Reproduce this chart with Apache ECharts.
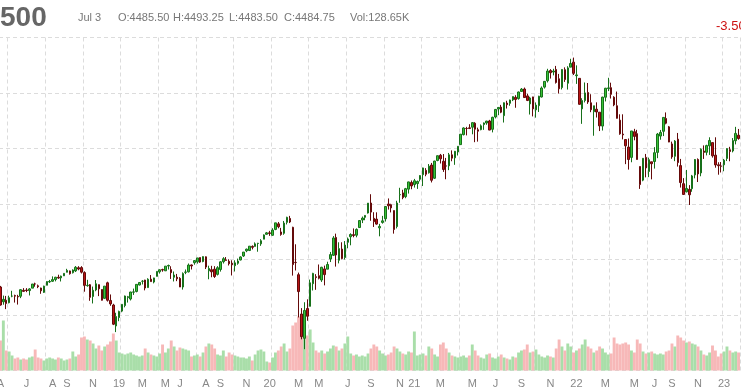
<!DOCTYPE html>
<html>
<head>
<meta charset="utf-8">
<script src="https://cdn.jsdelivr.net/npm/echarts@6/dist/echarts.min.js"></script>
<style>
html,body{margin:0;padding:0;background:#fff;}
#chart{width:741px;height:390px;}
</style>
</head>
<body>
<div id="chart"></div>
<script>
// Weekly bars, first week starting 2018-03-19
const firstWeek = '2018-03-19';
const opens = [
2752,2619,2633,2611,2670,2675,2667,2669,2722,2725,
2720,2742,2780,2763,2743,2704,2768,2798,2804,2819,
2840,2835,2853,2885,2897,2881,2897,2926,2927,2882,
2764,2773,2667,2726,2773,2730,2650,2790,2631,2590,
2401,2477,2535,2585,2657,2644,2706,2712,2770,2804,
2815,2747,2823,2797,2848,2889,2909,2898,2941,2909,
2840,2841,2830,2752,2885,2889,2951,2971,2979,3018,
2982,3024,2898,2908,2913,2866,2910,2980,2996,2984,
2967,2944,2966,2996,3032,3078,3081,3118,3118,3144,
3141,3183,3227,3240,3218,3271,3321,3248,3236,3335,
3370,3290,2974,2863,2509,2290,2558,2578,2782,2845,
2854,2815,2915,2913,3005,3038,3199,2993,3094,3018,
3155,3205,3224,3219,3288,3356,3380,3419,3509,3371,
3364,3285,3334,3367,3500,3493,3441,3297,3583,3600,
3566,3634,3694,3675,3684,3723,3764,3803,3781,3851,
3732,3892,3939,3885,3843,3844,3943,3916,3969,4035,
4125,4180,4186,4192,4228,4169,4170,4216,4230,4248,
4173,4284,4356,4373,4296,4409,4407,4438,4461,4450,
4514,4536,4474,4402,4465,4348,4386,4464,4553,4610,
4702,4689,4712,4628,4549,4710,4588,4733,4778,4656,
4632,4357,4432,4505,4412,4332,4354,4327,4202,4462,
4541,4548,4462,4385,4255,4130,4081,4013,3920,4151,
4134,3838,3715,3920,3793,3880,3883,3965,4112,4155,
4270,4195,4041,3930,4084,3846,3683,3610,3632,3638,
3762,3901,3780,3977,3966,4024,4053,3940,3853,3843,
3853,3910,3989,3978,4070,4120];
const highs = [
2762,2675,2672,2674,2718,2683,2682,2732,2742,2742,
2742,2779,2791,2774,2746,2764,2804,2816,2848,2844,
2863,2855,2876,2916,2900,2911,2941,2940,2940,2894,
2817,2779,2756,2815,2775,2731,2760,2800,2685,2601,
2520,2539,2597,2675,2672,2709,2738,2776,2794,2814,
2817,2831,2860,2836,2894,2911,2917,2940,2954,2939,
2892,2870,2841,2884,2910,2964,2955,2995,3014,3018,
3028,3028,2944,2943,2940,2940,2985,3021,3022,3002,
2993,2993,3008,3028,3067,3098,3120,3127,3154,3150,
3183,3226,3248,3258,3282,3330,3338,3285,3347,3385,
3393,3295,3137,2882,2562,2615,2641,2819,2880,2868,
2955,2934,2945,2980,3068,3211,3233,3155,3155,3166,
3198,3236,3280,3280,3352,3387,3399,3509,3588,3426,
3425,3321,3393,3482,3550,3502,3441,3529,3646,3628,
3645,3701,3712,3726,3711,3760,3827,3823,3860,3870,
3889,3937,3951,3950,3915,3960,3983,3978,4021,4129,
4191,4195,4219,4238,4237,4188,4217,4234,4249,4258,
4286,4356,4372,4393,4415,4430,4440,4468,4480,4513,
4545,4549,4493,4466,4466,4415,4475,4559,4608,4718,
4715,4718,4744,4672,4713,4731,4741,4808,4819,4749,
4632,4453,4595,4590,4489,4385,4416,4327,4466,4546,
4637,4593,4471,4513,4308,4308,4081,4090,4158,4177,
4168,3838,3913,3951,3918,3880,4012,4140,4167,4280,
4325,4203,4062,4076,4140,3906,3733,3807,3670,3762,
3905,3911,4001,4028,4034,4101,4053,4101,3876,3878,
3906,4003,4015,4094,4195,4176];
const lows = [
2585,2593,2553,2605,2660,2612,2594,2652,2707,2706,
2676,2742,2755,2742,2691,2698,2768,2789,2798,2803,
2826,2802,2851,2884,2864,2874,2887,2903,2874,2710,
2755,2628,2604,2714,2670,2631,2647,2621,2583,2409,
2346,2444,2525,2569,2612,2631,2681,2704,2767,2775,
2722,2746,2800,2785,2848,2873,2890,2896,2910,2825,
2802,2805,2752,2729,2868,2883,2910,2953,2963,2970,
2975,2914,2822,2840,2834,2856,2891,2964,2990,2946,
2856,2892,2953,2992,3023,3066,3076,3091,3117,3070,
3123,3183,3223,3213,3214,3264,3281,3214,3223,3316,
3328,2855,2901,2478,2281,2192,2448,2578,2721,2727,
2821,2798,2767,2913,2977,3032,2936,2965,3001,3000,
3101,3128,3200,3200,3284,3328,3354,3414,3349,3293,
3314,3209,3323,3342,3450,3424,3233,3280,3511,3543,
3552,3594,3633,3648,3636,3704,3662,3750,3774,3694,
3725,3885,3865,3789,3723,3805,3885,3853,3937,4035,
4118,4118,4175,4128,4057,4062,4164,4168,4214,4165,
4145,4271,4300,4318,4234,4360,4385,4427,4367,4440,
4513,4457,4427,4306,4289,4278,4329,4460,4540,4595,
4630,4659,4585,4495,4532,4600,4531,4733,4662,4582,
4395,4222,4415,4402,4327,4115,4279,4157,4162,4424,
4517,4450,4381,4270,4124,4082,3859,3810,3876,4074,
3900,3636,3705,3740,3742,3722,3819,3913,4079,4112,
4218,4057,3907,3886,3837,3648,3584,3604,3491,3610,
3731,3698,3750,3906,3938,3942,3918,3827,3764,3784,
3795,3887,3885,3965,4037,4079];
const closes = [
2590,2641,2604,2656,2670,2670,2663,2728,2713,2721,
2735,2779,2779,2755,2718,2760,2801,2802,2819,2840,
2833,2850,2875,2902,2872,2905,2930,2914,2886,2767,
2768,2659,2723,2781,2736,2633,2760,2633,2600,2417,
2486,2532,2596,2671,2665,2707,2708,2776,2793,2804,
2743,2822,2801,2834,2893,2907,2905,2940,2946,2881,
2860,2826,2752,2873,2887,2950,2942,2990,3014,2977,
3026,2932,2919,2889,2847,2926,2979,3007,2992,2962,
2952,2970,2986,3023,3067,3093,3120,3110,3141,3146,
3169,3221,3240,3235,3265,3330,3295,3226,3328,3380,
3338,2954,2972,2711,2305,2541,2489,2790,2875,2837,
2831,2930,2864,2955,3044,3194,3041,3098,3009,3130,
3185,3225,3216,3271,3351,3373,3397,3508,3427,3341,
3319,3298,3348,3477,3484,3465,3270,3509,3585,3558,
3638,3699,3663,3709,3703,3756,3825,3768,3841,3714,
3887,3935,3907,3811,3842,3943,3913,3975,4020,4129,
4185,4180,4181,4233,4174,4156,4204,4230,4247,4166,
4281,4352,4370,4327,4412,4395,4437,4468,4442,4509,
4535,4459,4433,4455,4357,4391,4471,4545,4605,4698,
4683,4698,4595,4538,4712,4621,4726,4766,4677,4663,
4398,4432,4501,4419,4349,4385,4329,4204,4463,4543,
4546,4488,4393,4272,4132,4123,4024,3901,4158,4109,
3901,3675,3912,3825,3899,3863,3962,4130,4145,4280,
4228,4058,3924,4067,3873,3693,3586,3640,3583,3753,
3901,3771,3993,3965,4026,4072,3934,3852,3845,3840,
3895,3999,3973,4071,4136,4090];
// weekly volume, thousands of contracts
const volumes = [
12000,20000,8000,7600,6000,4800,5200,4400,4800,4400,
5200,5600,8400,5200,4800,4000,4800,5200,4800,4400,
5200,4800,4000,4400,4800,7600,5600,6400,13200,13600,
12400,12000,10800,8800,10000,8000,9600,10400,11600,14800,
12000,7200,6800,6400,6800,7200,6400,6000,5600,6000,
8800,7200,6400,6000,5600,6800,10400,7200,8800,12000,
9600,8000,9200,8800,8400,8000,5600,6000,6400,5600,
7200,9600,10800,10400,8800,6400,6000,8000,5600,7200,
6400,6000,5600,5200,5200,4800,5600,4000,6400,8000,
8400,7600,3600,3200,5200,7200,8000,9600,10800,7600,
8800,18000,19200,21600,20000,16800,14000,16400,11200,8000,
7200,8000,6800,7600,8800,10000,9600,8000,8800,10800,
13600,6800,6000,6400,5600,6000,5600,6800,8800,10400,
9600,8000,6800,6000,6400,7200,9600,8800,7600,6800,
6400,7600,7200,15600,6000,6400,6800,6000,9600,8800,
6400,5600,10400,11200,8800,7200,6000,5600,5200,5600,
6000,5200,6000,10400,8000,6000,5200,4800,6400,6800,
5200,4800,5600,6400,5200,4800,4400,5600,5200,7200,
8000,8400,10400,7200,7600,8400,6400,5600,5200,6000,
5600,5200,8800,12400,9600,8000,10800,9600,7200,8000,
8800,10400,12400,9600,8800,7200,8000,9600,8800,7200,
6400,6800,13200,10800,10400,10800,11200,10400,8000,7200,
12400,10800,7600,6800,7200,7600,6800,6400,6800,6400,
7600,8000,10800,9600,14000,13200,12000,11200,11600,10800,
10400,9600,8000,6400,6000,7200,10000,8000,5600,6800,
7600,9600,8000,7200,7600,7200];
const tickLabelIdx = [0,9,18,23,32,41,49,57,62,71,76,85,93,103,110,120,128,138,143,152,163,171,180,190,199,209,219,226,232,241,250];
const tickLabelText = ['A','J','A','S','N','19','M','M','J','A','S','N','20','M','M','J','S','N','21','M','M','J','S','N','22','M','M','J','S','N','23'];
const headerTitle = '500';
const headerDate = 'Jul 3';
const headerO = 'O:4485.50', headerH = 'H:4493.25', headerL = 'L:4483.50', headerC = 'C:4484.75', headerVol = 'Vol:128.65K';
const headerChange = '-3.50';

// category dates (calendar weeks)
const dates = [];
{
  const d0 = new Date(firstWeek + 'T00:00:00Z');
  for (let k = 0; k < opens.length; k++) {
    const d = new Date(d0.getTime() + k * 7 * 86400000);
    dates.push(d.toISOString().slice(0, 10));
  }
}
const ohlc = opens.map((o, k) => [o, closes[k], lows[k], highs[k]]);
const volData = volumes.map((v, k) => ({
  value: v,
  itemStyle: { color: closes[k] >= opens[k] ? '#a9dea9' : '#f7b8b8' }
}));

const FONT = "'Liberation Sans', Arial, sans-serif";
const chart = echarts.init(document.getElementById('chart'), null, { renderer: 'canvas' });
const grid = { color: '#dcdcdc', type: [4, 3], width: 1 };
chart.setOption({
  animation: false,
  backgroundColor: '#fff',
  grid: [
    { left: -1, right: 1, top: 37.5, bottom: 19.5, containLabel: false, outerBoundsMode: 'none' },
    { left: -1, right: 1, top: 270.5, bottom: 19.5, containLabel: false, outerBoundsMode: 'none' }
  ],
  xAxis: [
    {
      type: 'category', gridIndex: 0, data: dates, boundaryGap: true,
      axisLine: { show: false }, axisTick: { show: false }, axisLabel: { show: false },
      splitLine: { show: true, interval: (i) => i % 13 === 3, lineStyle: grid }
    },
    {
      type: 'category', gridIndex: 1, data: dates, boundaryGap: true,
      axisLine: { show: false }, axisTick: { show: false },
      splitLine: { show: false },
      axisLabel: {
        show: true, margin: 8, color: '#888', fontSize: 11, fontFamily: FONT,
        interval: (i) => tickLabelIdx.indexOf(i) >= 0,
        formatter: (v, i) => { const p = tickLabelIdx.indexOf(i); return p >= 0 ? tickLabelText[p] : ''; }
      }
    }
  ],
  yAxis: [
    {
      type: 'value', gridIndex: 0, min: 2000, max: 5000, interval: 500,
      axisLine: { show: false }, axisTick: { show: false }, axisLabel: { show: false },
      splitLine: { show: true, lineStyle: grid }
    },
    { type: 'value', gridIndex: 1, min: 0, max: 40000, show: false, splitLine: { show: false } }
  ],
  series: [
    {
      type: 'bar', xAxisIndex: 1, yAxisIndex: 1, data: volData,
      barCategoryGap: '0%', barWidth: '100%', z: 1, silent: true
    },
    {
      type: 'candlestick', xAxisIndex: 0, yAxisIndex: 0, data: ohlc,
      barWidth: 2, z: 3, silent: true,
      itemStyle: {
        color: '#36c236', color0: '#b81414',
        borderColor: '#17701a', borderColor0: '#640a0a', borderWidth: 1
      }
    }
  ],
  graphic: [
    { type: 'text', x: 0, y: 18, style: { text: headerTitle, font: 'bold 28px ' + FONT, fill: '#666', verticalAlign: 'middle' } },
    { type: 'text', x: 78, y: 18, style: { text: headerDate, font: '11px ' + FONT, fill: '#777', verticalAlign: 'middle' } },
    { type: 'text', x: 118, y: 18, style: { text: headerO, font: '11px ' + FONT, fill: '#777', verticalAlign: 'middle' } },
    { type: 'text', x: 173, y: 18, style: { text: headerH, font: '11px ' + FONT, fill: '#777', verticalAlign: 'middle' } },
    { type: 'text', x: 229, y: 18, style: { text: headerL, font: '11px ' + FONT, fill: '#777', verticalAlign: 'middle' } },
    { type: 'text', x: 284, y: 18, style: { text: headerC, font: '11px ' + FONT, fill: '#777', verticalAlign: 'middle' } },
    { type: 'text', x: 350, y: 18, style: { text: headerVol, font: '11px ' + FONT, fill: '#777', verticalAlign: 'middle' } },
    { type: 'text', x: 716, y: 26, style: { text: headerChange, font: '13px ' + FONT, fill: '#cc1111', verticalAlign: 'middle' } }
  ]
});
</script>
</body>
</html>
